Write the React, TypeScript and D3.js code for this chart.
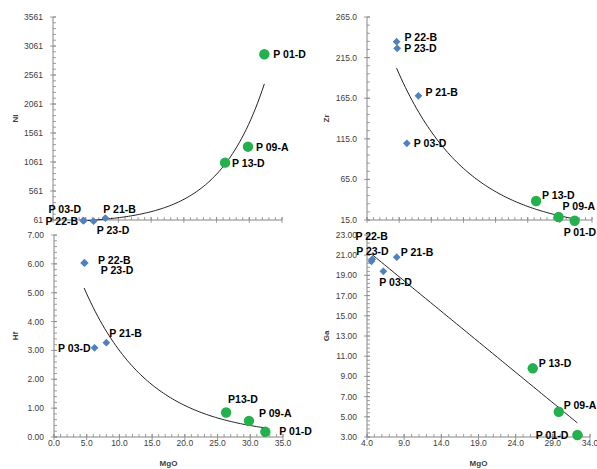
import React from 'react';
import * as d3 from 'd3';

// ---- data ----
const samples = ['P 22-B', 'P 23-D', 'P 03-D', 'P 21-B', 'P 13-D', 'P 09-A', 'P 01-D'];
const groups = ['mafic', 'mafic', 'mafic', 'mafic', 'ultra', 'ultra', 'ultra'];
const mgo = [4.6, 4.7, 6.2, 8.0, 26.3, 29.8, 32.3];
const ni = [50, 52, 40, 95, 1050, 1325, 2918];
const zr = [234.6, 226.4, 109.5, 168, 38.4, 18.7, 14.1];
const hf = [6.03, 6.03, 3.09, 3.27, 0.85, 0.56, 0.18];
const ga = [20.4, 20.6, 19.4, 20.8, 9.8, 5.5, 3.2];
const hfNames = ['P 22-B', 'P 23-D', 'P 03-D', 'P 21-B', 'P13-D', 'P 09-A', 'P 01-D'];

const niTicks = [61, 561, 1061, 1561, 2061, 2561, 3061, 3561];
const zrTicks = [15, 65, 115, 165, 215, 265];
const hfTicks = [0, 1, 2, 3, 4, 5, 6, 7];
const gaTicks = [3, 5, 7, 9, 11, 13, 15, 17, 19, 21, 23];
const mgoTicksA = [0, 5, 10, 15, 20, 25, 30, 35];
const mgoTicksB = [4, 9, 14, 19, 24, 29, 34];

// ---- layout / style ----
type Lab = [number, number, 'start' | 'end'];
const panels = [
  {
    key: 'ni', title: 'Ni', values: ni, names: samples, fit: 'exp',
    xDom: [0, 35], xTicks: mgoTicksA, xMinor: 1, xRange: [53, 282],
    yDom: [61, 3561], yTicks: niTicks, yMinor: 100, yRange: [220, 17], yFmt: (v: number) => String(v),
    showX: false, titleX: 15,
    labels: [[-5, 0, 'end'], [13, 9, 'start'], [-45, -12, 'start'], [-2, -9, 'start'], [7, 0, 'start'], [8, 0, 'start'], [9, 0, 'start']] as Lab[],
  },
  {
    key: 'zr', title: 'Zr', values: zr, names: samples, fit: 'exp',
    xDom: [0, 35], xTicks: mgoTicksA, xMinor: 1, xRange: [367, 592],
    yDom: [15, 265], yTicks: zrTicks, yMinor: 10, yRange: [220, 17], yFmt: (v: number) => v.toFixed(1),
    showX: false, titleX: 326,
    labels: [[8, -5, 'start'], [7, 0, 'start'], [7, 0, 'start'], [7, -4, 'start'], [6, -6, 'start'], [4, -11, 'start'], [-11, 11, 'start']] as Lab[],
  },
  {
    key: 'hf', title: 'Hf', values: hf, names: hfNames, fit: 'exp',
    xDom: [0, 35], xTicks: mgoTicksA, xMinor: 1, xRange: [54, 283],
    yDom: [0, 7], yTicks: hfTicks, yMinor: 0.2, yRange: [437, 235], yFmt: (v: number) => v.toFixed(2),
    showX: true, titleX: 15,
    labels: [[14, -3, 'start'], [16, 7, 'start'], [-4, 0, 'end'], [3, -10, 'start'], [2, -13, 'start'], [10, -8, 'start'], [14, -1, 'start']] as Lab[],
  },
  {
    key: 'ga', title: 'Ga', values: ga, names: samples, fit: 'lin',
    xDom: [4, 34], xTicks: mgoTicksB, xMinor: 1, xRange: [367, 590],
    yDom: [3, 23], yTicks: gaTicks, yMinor: 0.4, yRange: [437, 235], yFmt: (v: number) => v.toFixed(2),
    showX: true, titleX: 326,
    labels: [[-16, -25, 'start'], [-16, -8, 'start'], [-4, 11, 'start'], [4, -5, 'start'], [6, -5, 'start'], [5, -7, 'start'], [-9, 0, 'end']] as Lab[],
  },
];

const AXIS = '#868686';
const BLUE = '#4f81bd';
const GREEN = '#22b14c';
const FONT = '"Liberation Sans", Arial, sans-serif';

function fitCurve(xs: number[], ys: number[], kind: string) {
  const ty = kind === 'exp' ? ys.map((v) => Math.log(v)) : ys;
  const mx = d3.mean(xs)!;
  const my = d3.mean(ty)!;
  let sxy = 0, sxx = 0;
  xs.forEach((x, i) => { sxy += (x - mx) * (ty[i] - my); sxx += (x - mx) * (x - mx); });
  const b = sxy / sxx;
  const a = my - b * mx;
  const [x0, x1] = d3.extent(xs) as [number, number];
  const n = 80;
  return d3.range(n + 1).map((i) => {
    const x = x0 + ((x1 - x0) * i) / n;
    const y = kind === 'exp' ? Math.exp(a + b * x) : a + b * x;
    return [x, y] as [number, number];
  });
}

function Panel({ p }: { p: typeof panels[number] }) {
  const x = d3.scaleLinear().domain(p.xDom).range(p.xRange);
  const y = d3.scaleLinear().domain(p.yDom).range(p.yRange);
  const x0 = p.xRange[0];
  const y0 = p.yRange[0];
  const xMinor = d3.range(p.xDom[0], p.xDom[1] + 1e-9, p.xMinor);
  const nY = Math.round((p.yDom[1] - p.yDom[0]) / p.yMinor);
  const yMinor = d3.range(nY + 1).map((i) => p.yDom[0] + i * p.yMinor);
  const curve = fitCurve(mgo, p.values, p.fit);
  const line = d3.line<[number, number]>().x((d) => x(d[0])).y((d) => y(d[1]));
  const diamond = d3.symbol(d3.symbolSquare, 30)()!;
  const yMid = (p.yRange[0] + p.yRange[1]) / 2;
  return (
    <g>
      {xMinor.map((v, i) => (
        <line key={'xm' + i} x1={x(v)} x2={x(v)} y1={y0} y2={y0 - 3} stroke={AXIS} strokeWidth={0.8} />
      ))}
      {yMinor.map((v, i) => (
        <line key={'ym' + i} x1={x0} x2={x0 + 3} y1={y(v)} y2={y(v)} stroke={AXIS} strokeWidth={0.8} />
      ))}
      {p.xTicks.map((v) => (
        <line key={'xt' + v} x1={x(v)} x2={x(v)} y1={y0 - 3} y2={y0 + 3} stroke={AXIS} strokeWidth={0.8} />
      ))}
      {p.yTicks.map((v) => (
        <line key={'yt' + v} x1={x0 - 3} x2={x0 + 3} y1={y(v)} y2={y(v)} stroke={AXIS} strokeWidth={0.8} />
      ))}
      <line x1={x0} x2={p.xRange[1]} y1={y0} y2={y0} stroke={AXIS} strokeWidth={1} />
      <line x1={x0} x2={x0} y1={p.yRange[1]} y2={y0} stroke={AXIS} strokeWidth={1} />
      {p.yTicks.map((v) => (
        <text key={'yl' + v} x={x0 - 10} y={y(v) + 3} textAnchor="end" fontSize={8.5} fill="#404040" fontFamily={FONT}>
          {p.yFmt(v)}
        </text>
      ))}
      {p.showX && p.xTicks.map((v) => (
        <text key={'xl' + v} x={x(v)} y={y0 + 9} textAnchor="middle" fontSize={8.5} fill="#404040" fontFamily={FONT}>
          {v.toFixed(1)}
        </text>
      ))}
      {p.showX && (
        <text x={(p.xRange[0] + p.xRange[1]) / 2} y={466} textAnchor="middle" fontSize={8} fontWeight="bold" fill="#404040" fontFamily={FONT}>
          MgO
        </text>
      )}
      <text transform={`translate(${p.titleX + 3},${yMid}) rotate(-90)`} textAnchor="middle" fontSize={8} fontWeight="bold" fill="#404040" fontFamily={FONT}>
        {p.title}
      </text>
      <path d={line(curve)!} fill="none" stroke="#222" strokeWidth={1} />
      {mgo.map((m, i) =>
        groups[i] === 'mafic' ? (
          <path key={'pt' + i} d={diamond} transform={`translate(${x(m)},${y(p.values[i])}) rotate(45)`} fill={BLUE} />
        ) : (
          <circle key={'pt' + i} cx={x(m)} cy={y(p.values[i])} r={5.2} fill={GREEN} />
        )
      )}
      {mgo.map((m, i) => {
        const [dx, dy, anchor] = p.labels[i];
        return (
          <text key={'lb' + i} x={x(m) + dx} y={y(p.values[i]) + dy + 4} textAnchor={anchor} fontSize={10.5} fontWeight="bold" fill="#000" fontFamily={FONT}>
            {p.names[i]}
          </text>
        );
      })}
    </g>
  );
}

export default function App() {
  return (
    <svg width={597} height={469} style={{ position: 'absolute', left: 0, top: 0, background: '#fff' }}>
      <rect width={597} height={469} fill="#fff" />
      {panels.map((p) => (
        <Panel key={p.key} p={p} />
      ))}
    </svg>
  );
}
